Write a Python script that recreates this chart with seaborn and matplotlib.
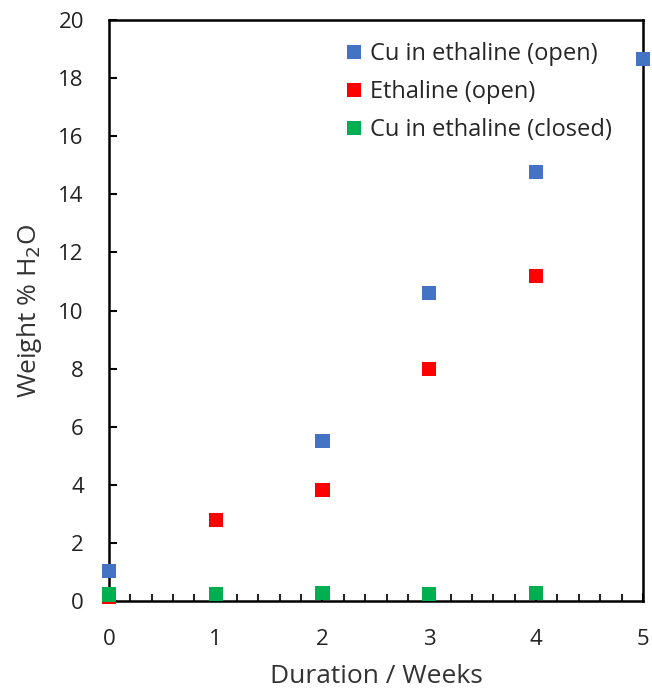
import pandas as pd
import matplotlib.pyplot as plt
import seaborn as sns
from matplotlib.ticker import MultipleLocator

weeks = [0, 1, 2, 3, 4, 5]
cu_open_x = [0, 2, 3, 4, 5]
cu_open = [1.03, 5.5, 10.6, 14.77, 18.66]
eth_open_x = [0, 1, 2, 3, 4]
eth_open = [0.15, 2.8, 3.83, 7.99, 11.2]
cu_closed_x = [0, 1, 2, 3, 4]
cu_closed = [0.22, 0.25, 0.28, 0.25, 0.28]

series = ['Cu in ethaline (open)', 'Ethaline (open)', 'Cu in ethaline (closed)']
colors = ['#4472C4', '#FF0000', '#00B050']

df = pd.concat([
    pd.DataFrame({'week': cu_open_x, 'water': cu_open, 'series': series[0]}),
    pd.DataFrame({'week': eth_open_x, 'water': eth_open, 'series': series[1]}),
    pd.DataFrame({'week': cu_closed_x, 'water': cu_closed, 'series': series[2]}),
])

sns.set_style('ticks')
plt.rcParams['font.family'] = ['Open Sans', 'DejaVu Sans']

fig = plt.figure(figsize=(6.52, 6.92), dpi=100)
ax = fig.add_axes([0.167, 0.1315, 0.819, 0.8395])

sns.scatterplot(data=df, x='week', y='water', hue='series', palette=colors,
                marker='s', s=105, linewidth=0, ax=ax, clip_on=False, zorder=3)

ax.set_xlim(0, 5)
ax.set_ylim(0, 20)
ax.set_xticks(weeks)
ax.set_yticks(range(0, 21, 2))
ax.xaxis.set_minor_locator(MultipleLocator(0.2))
ax.tick_params(axis='both', which='major', direction='in', length=6, width=1.5,
               labelsize=16, colors='black', labelcolor='#222222')
ax.tick_params(axis='x', which='minor', direction='in', length=5, width=1.5)
ax.tick_params(axis='x', pad=20)
ax.tick_params(axis='y', pad=18)
for sp in ax.spines.values():
    sp.set_linewidth(1.8)
    sp.set_color('black')

ax.set_xlabel('Duration / Weeks', fontsize=19, color='#333333', labelpad=10)
ax.set_ylabel('Weight % H$_2$O', fontsize=19, color='#333333', labelpad=10)

ax.legend(loc='upper left', bbox_to_anchor=(0.393, 0.999), frameon=False,
          fontsize=17, handletextpad=0.05, labelspacing=0.6, markerscale=1.0,
          handlelength=1.2)

fig.savefig('out.png', dpi=100)
